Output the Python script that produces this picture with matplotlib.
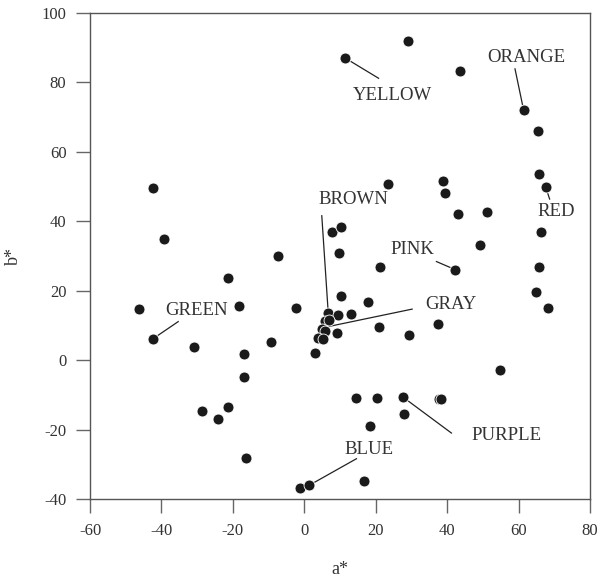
import matplotlib
matplotlib.use("Agg")
import matplotlib.pyplot as plt

plt.rcParams["font.family"] = ["Liberation Serif", "DejaVu Serif"]
plt.rcParams["axes.unicode_minus"] = False

# colour samples in CIELAB space (a*, b*)
a_vals = [11.5, -42.3, -39.3, -7.3, 7.7, 10.3, 9.8, 29.1, 43.5, 61.4,
          65.4, 65.6, 67.6, 23.3, 38.8, 39.4, 43.1, 51.1, 66.3, 49.1,
          -21.5, -46.4, -42.3, -18.3, -2.4, -30.8, -16.9, -9.4, -16.9, -28.7,
          -21.5, -24.1, -16.3, -1.2, 1.3, 10.3, 6.7, 9.4, 5.8, 7.0,
          4.9, 5.8, 3.7, 5.1, 9.2, 3.0, 13.1, 21.3, 42.2, 65.8,
          17.7, 64.9, 68.1, 20.8, 29.2, 37.5, 54.7, 14.6, 20.3, 27.7,
          37.8, 38.4, 28.0, 18.4, 16.7]
b_vals = [87.0, 49.6, 34.8, 30.0, 36.8, 38.3, 31.0, 91.9, 83.4, 72.1,
          66.1, 53.7, 49.8, 50.7, 51.6, 48.1, 42.1, 42.7, 36.9, 33.2,
          23.6, 14.8, 6.2, 15.6, 15.1, 3.8, 1.8, 5.2, -5.0, -14.6,
          -13.4, -16.9, -28.2, -36.9, -36.1, 18.5, 13.7, 13.0, 11.4, 11.6,
          8.9, 8.4, 6.5, 6.2, 7.7, 2.1, 13.3, 26.8, 26.1, 26.8,
          16.8, 19.6, 14.9, 9.5, 7.1, 10.3, -2.8, -10.9, -10.9, -10.7,
          -11.1, -11.1, -15.5, -19.1, -34.7]

# colour-name labels: text position, leader line start, leader line end
label_names = ["YELLOW", "ORANGE", "RED", "BROWN", "GRAY", "PINK", "GREEN", "PURPLE", "BLUE"]
label_pos = [(24.6, 76.2), (62.2, 87.3), (70.4, 42.8), (13.7, 46.4), (41.0, 16.0),
             (30.2, 31.8), (-30.3, 14.2), (56.5, -21.7), (18.0, -25.6)]
line_start = [(20.8, 81.2), (59.0, 83.9), (68.7, 46.4), (4.9, 41.6), (30.2, 14.7),
              (37.0, 28.4), (-35.3, 11.1), (41.2, -21.0), (14.6, -28.4)]
line_end = [(11.5, 87.0), (61.4, 72.1), (67.6, 49.8), (6.7, 13.7), (6.4, 9.6),
            (42.2, 26.1), (-42.3, 6.2), (27.7, -10.7), (1.3, -36.1)]

x_ticks = [-60, -40, -20, 0, 20, 40, 60, 80]
y_ticks = [-40, -20, 0, 20, 40, 60, 80, 100]


def main() -> None:
    fig = plt.figure(figsize=(6.03, 5.82), dpi=100)
    ax = fig.add_axes([90 / 603, 1 - 499 / 582, 500 / 603, 486 / 582])

    for (x0, y0), (x1, y1) in zip(line_start, line_end):
        ax.plot([x0, x1], [y0, y1], color="#222222", linewidth=0.9, zorder=1)

    ax.scatter(a_vals, b_vals, s=62, color="#1a1a1a", edgecolors="white",
               linewidths=0.6, zorder=2)

    for name, (x, y) in zip(label_names, label_pos):
        ax.text(x, y, name, fontsize=13.5, color="#333333", ha="center", va="center", zorder=3)

    ax.set_xlim(-60, 80)
    ax.set_ylim(-40, 100)
    ax.set_xticks(x_ticks)
    ax.set_yticks(y_ticks)
    ax.tick_params(direction="out", length=10, width=1, color="#666666",
                   labelsize=12, labelcolor="#333333", pad=7)
    for spine in ax.spines.values():
        spine.set_color("#555555")
        spine.set_linewidth(1)

    ax.set_xlabel("a*", fontsize=13, color="#333333", labelpad=16)
    ax.set_ylabel("b*", fontsize=13, color="#333333", labelpad=14)

    fig.savefig("out.png", dpi=100)
    plt.close(fig)


if __name__ == "__main__":
    main()
